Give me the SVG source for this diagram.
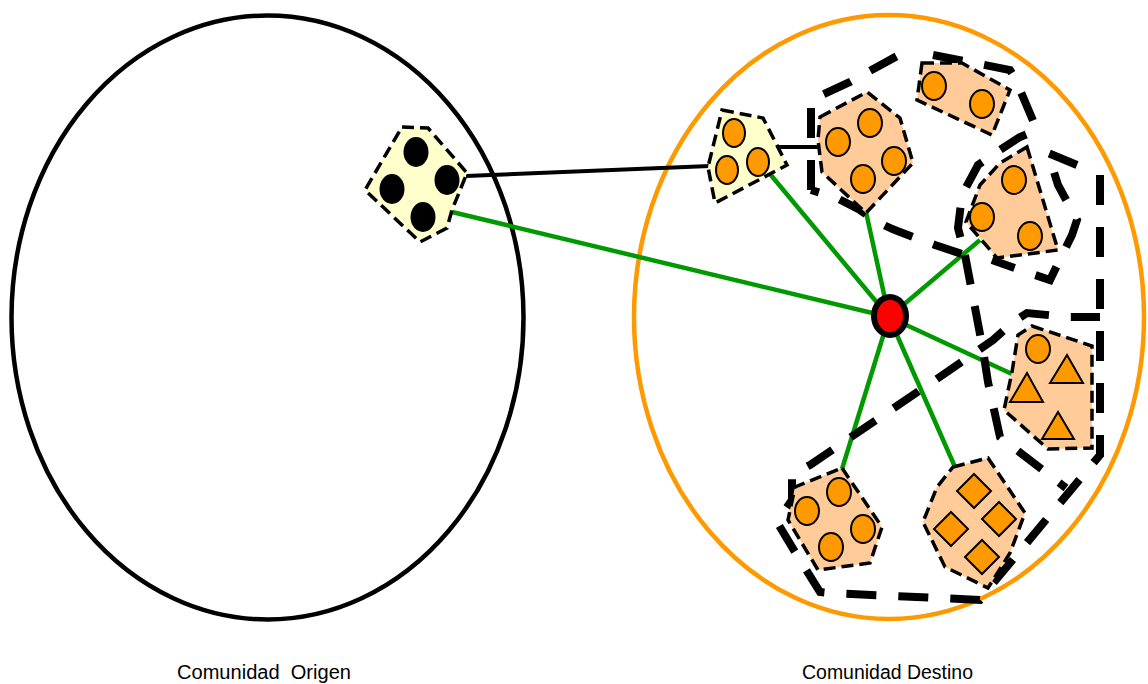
<svg xmlns="http://www.w3.org/2000/svg" width="1148" height="684" viewBox="0 0 1148 684">
<style>
.comm{fill:none;stroke-width:4.5}
.grp{stroke:#000;stroke-width:3.5;stroke-dasharray:12 6}
.ylw{fill:#FFFFCC}
.org{fill:#FFCC99}
.dot{fill:#FF9900;stroke:#000;stroke-width:2}
.blk{fill:#000}
.big{fill:none;stroke:#000;stroke-width:8;stroke-dasharray:30 22;stroke-linejoin:miter}
.green{stroke:#009900;stroke-width:4.5;fill:none}
.link{stroke:#000;stroke-width:4;fill:none}
.lbl{font-family:"Liberation Sans",Arial,sans-serif;font-size:20px;fill:#000}
</style>
<rect width="1148" height="684" fill="#fff"/>
<g id="comunidad-origen">
<ellipse class="comm" cx="267.5" cy="317.5" rx="256" ry="302" stroke="#000"/>
<text class="lbl" x="177" y="679" textLength="174" lengthAdjust="spacingAndGlyphs" xml:space="preserve">Comunidad  Origen</text>
</g>
<g id="comunidad-destino">
<ellipse class="comm" cx="889" cy="317" rx="255" ry="302" stroke="#FF9900"/>
<text class="lbl" x="802" y="679" textLength="171" lengthAdjust="spacingAndGlyphs">Comunidad Destino</text>
</g>
<g id="connectors">
<line class="green" x1="452" y1="212" x2="889" y2="317"/>
<line class="green" x1="770" y1="174" x2="889" y2="317"/>
<line class="green" x1="866" y1="212" x2="889" y2="317"/>
<line class="green" x1="980" y1="240" x2="889" y2="317"/>
<line class="green" x1="1012" y1="374" x2="889" y2="317"/>
<line class="green" x1="842" y1="469" x2="889" y2="317"/>
<line class="green" x1="955" y1="467" x2="889" y2="317"/>
<line class="link" x1="466" y1="176" x2="710" y2="166"/>
<line class="link" x1="776" y1="147" x2="820" y2="147"/>
</g>
<g id="clusters">
<path class="big" d="M811,190 L811,100 L850,82 L908,50 M933,55 L1010,70 L1015,78 L1037,130 L1020,137 L1000,150 L978,165 L962,195 L958,228 L965,255 L935,245 L900,232 Q880,225 860,210 L835,197 L811,190"/>
<path class="big" d="M965,255 L983,350 L988,382 L1000,437 L1066,488"/>
<path class="big" d="M1077,165 L1048,153 L1058,185 L1077,220 L1072,235 L1050,280 L1020,270 L992,260"/>
<path class="big" d="M1100,175 L1100,455 L990,587 L980,600 L830,593 L820,592 L795,552 L777,522 L792,500 L792,475 L810,465 L857,433 L947,372 L993,340 L1013,322 L1027,313 L1068,317 L1100,317"/>
</g>
<g id="nodo-origen">
<polygon class="grp ylw" points="402,127 428,128 467,173 452,210 447,228 420,242 365,190"/>
<ellipse class="blk" cx="416" cy="152" rx="12.5" ry="15"/>
<ellipse class="blk" cx="392" cy="189" rx="12.5" ry="15"/>
<ellipse class="blk" cx="447" cy="180" rx="12.5" ry="15"/>
<ellipse class="blk" cx="423" cy="217" rx="12.5" ry="15"/>
</g>
<g id="nodo-destino">
<polygon class="grp ylw" points="722,110 763,118 787,165 715,203 708,167"/>
<ellipse class="dot" cx="734" cy="133" rx="11" ry="14"/>
<ellipse class="dot" cx="727" cy="170" rx="11" ry="14"/>
<ellipse class="dot" cx="758" cy="162" rx="11" ry="14"/>
</g>
<g id="grupo-1">
<polygon class="grp org" points="820,117 867,92 900,118 913,163 866,213 822,172 818,140"/>
<ellipse class="dot" cx="838" cy="142" rx="12" ry="14"/>
<ellipse class="dot" cx="870" cy="123" rx="12" ry="14"/>
<ellipse class="dot" cx="894" cy="161" rx="12" ry="14"/>
<ellipse class="dot" cx="863" cy="179" rx="12" ry="14"/>
</g>
<g id="grupo-2">
<polygon class="grp org" points="922,63 962,63 1010,90 992,135 917,100"/>
<ellipse class="dot" cx="934" cy="86" rx="12" ry="14"/>
<ellipse class="dot" cx="982" cy="104" rx="12" ry="14"/>
</g>
<g id="grupo-3">
<polygon class="grp org" points="1027,147 1058,250 997,258 966,222 980,185 1000,163"/>
<ellipse class="dot" cx="1014" cy="180" rx="12" ry="14"/>
<ellipse class="dot" cx="982" cy="217" rx="12" ry="14"/>
<ellipse class="dot" cx="1030" cy="236" rx="12" ry="14"/>
</g>
<g id="grupo-4">
<polygon class="grp org" points="1032,326 1092,346 1092,448 1048,449 1004,410 1012,372 1018,335"/>
<ellipse class="dot" cx="1038" cy="349" rx="12" ry="14"/>
<polygon class="dot" points="1067,355 1050,383 1083,383"/>
<polygon class="dot" points="1027,373 1010,402 1043,402"/>
<polygon class="dot" points="1058,412 1042,439 1074,439"/>
</g>
<g id="grupo-5">
<polygon class="grp org" points="842,468 882,527 870,563 818,570 788,520 795,487"/>
<ellipse class="dot" cx="807" cy="511" rx="12" ry="14"/>
<ellipse class="dot" cx="839" cy="492" rx="12" ry="14"/>
<ellipse class="dot" cx="863" cy="529" rx="12" ry="14"/>
<ellipse class="dot" cx="831" cy="547" rx="12" ry="14"/>
</g>
<g id="grupo-6">
<polygon class="grp org" points="953,467 988,458 1025,513 1010,553 988,588 945,567 923,522 937,487"/>
<polygon class="dot" points="974,474 991,491 974,508 957,491"/>
<polygon class="dot" points="999,502 1016,519 999,536 982,519"/>
<polygon class="dot" points="951,512 968,529 951,546 934,529"/>
<polygon class="dot" points="982,540 999,557 982,574 965,557"/>
</g>
<g id="centro">
<ellipse cx="890" cy="316" rx="16" ry="19" fill="#FF0000" stroke="#000" stroke-width="6"/>
</g>
</svg>
